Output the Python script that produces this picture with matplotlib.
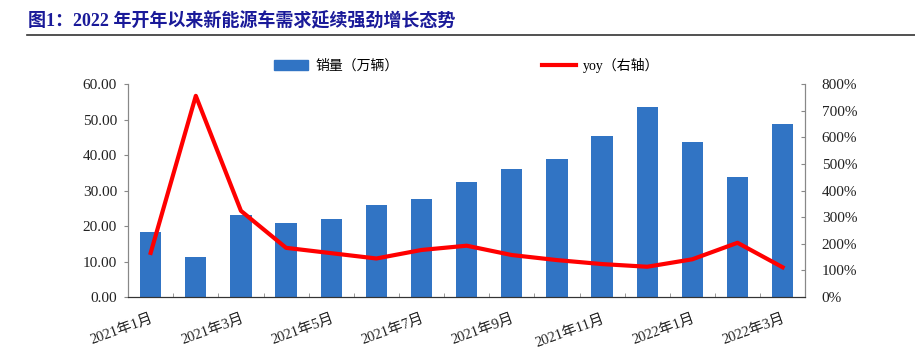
import numpy as np
import matplotlib.pyplot as plt
from matplotlib.lines import Line2D

plt.rcParams['font.family'] = ['Liberation Serif', 'Noto Sans CJK SC']

months = ['2021年1月', '2021年2月', '2021年3月', '2021年4月', '2021年5月',
          '2021年6月', '2021年7月', '2021年8月', '2021年9月', '2021年10月',
          '2021年11月', '2021年12月', '2022年1月', '2022年2月', '2022年3月']
sales = [18.2, 11.3, 23.0, 20.9, 22.1, 25.9, 27.5, 32.5, 36.2, 38.8,
         45.4, 53.6, 43.6, 33.8, 48.9]
yoy = [1.66, 7.56, 3.24, 1.85, 1.65, 1.45, 1.77, 1.93, 1.58, 1.39,
       1.24, 1.14, 1.42, 2.04, 1.12]

bar_color = '#3174c4'
line_color = '#ff0000'
txt_color = '#222222'

fig = plt.figure(figsize=(9.15, 3.52), dpi=100)
ax = fig.add_axes([0.14, 0.156, 0.74, 0.605])
ax2 = ax.twinx()

x = np.arange(len(months))
ax.bar(x, sales, width=0.47, color=bar_color, zorder=2)
ax2.plot(x, yoy, color=line_color, lw=3, zorder=3)

ax.set_xlim(-0.5, len(months) - 0.5)
ax.set_ylim(0, 60)
ax.set_yticks(np.arange(0, 61, 10))
ax.set_yticklabels(['%.2f' % v for v in np.arange(0, 61, 10)])
ax2.set_ylim(0, 8)
ax2.set_yticks(np.arange(0, 9, 1))
ax2.set_yticklabels(['%d%%' % (v * 100) for v in range(9)])

ax.set_xticks(x[::2])
ax.set_xticklabels(months[::2], rotation=20, ha='right', rotation_mode='anchor')
ax.set_xticks(np.arange(-0.5, len(months), 1), minor=True)
ax.tick_params(axis='x', which='major', length=0, pad=11, labelsize=10.5, labelcolor=txt_color)
ax.tick_params(axis='x', which='minor', direction='in', length=3, color='#888888')
ax.tick_params(axis='y', direction='out', length=3, color='#888888', labelsize=11, labelcolor=txt_color, pad=5)
ax2.tick_params(axis='y', direction='in', length=3, color='#888888', labelsize=11, labelcolor=txt_color, pad=12)

for a in (ax, ax2):
    a.spines['top'].set_visible(False)
    a.spines['left'].set_color('#888888')
    a.spines['right'].set_color('#888888')
    a.spines['bottom'].set_color('#333333')
ax2.set_zorder(ax.get_zorder() + 1)
ax2.patch.set_visible(False)

handles = [plt.Rectangle((0, 0), 1, 1, color=bar_color),
           Line2D([0], [0], color=line_color, lw=3)]
fig.legend(handles, ['销量（万辆）', 'yoy（右轴）'], loc='center', bbox_to_anchor=(0.51, 0.815),
           ncol=2, frameon=False, fontsize=10, columnspacing=10.3, handlelength=2.5,
           handletextpad=0.5)

fig.text(0.031, 0.94, '图1：2022 年开年以来新能源车需求延续强劲增长态势', fontsize=13,
         fontweight='bold', color='#1a1a99', va='center',
         family=['Liberation Serif', 'Noto Sans CJK SC'])
fig.add_artist(Line2D([0.03, 1.0], [0.9, 0.9], color='#333333', lw=1.2))

fig.savefig('out.png', dpi=100)
